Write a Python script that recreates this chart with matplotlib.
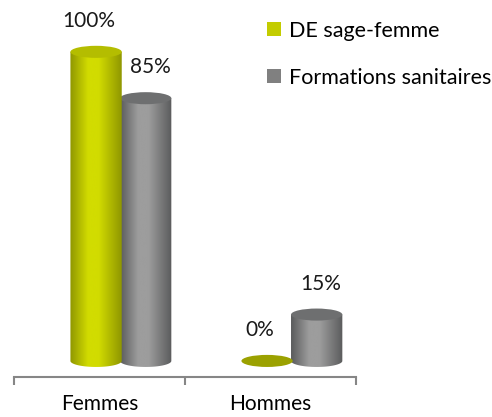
import numpy as np
import matplotlib
matplotlib.use("Agg")
import matplotlib.pyplot as plt
from matplotlib.patches import Ellipse, Patch, PathPatch
from matplotlib.path import Path
from matplotlib.colors import LinearSegmentedColormap

# data
categories = ["Femmes", "Hommes"]
series_names = ["DE sage-femme", "Formations sanitaires"]
de_sage_femme = [100, 0]
formations_sanitaires = [85, 15]
value_labels = [["100%", "0%"], ["85%", "15%"]]

plt.rcParams['font.family'] = ['Lato', 'DejaVu Sans']

# styles: body dark edge, highlight, top colour, legend colour
styles = [
    dict(dark="#8f9600", light="#d2dc00", top="#b4bd00", zero="#9ba100", legend="#c3cc00"),
    dict(dark="#5a5b5c", light="#9d9d9d", top="#6e6f70", zero="#6e6f70", legend="#808080"),
]
offsets = [-0.02, 0.27]
label_dx = [-0.04, 0.025]
width = 0.30
ell_h = 3.9

fig = plt.figure(figsize=(4.92, 4.17), dpi=100)
ax = fig.add_axes([14 / 492, 40 / 417, 342 / 492, 357 / 417])


def cylinder(ax, xc, v, st, z):
    x0, x1 = xc - width / 2, xc + width / 2
    if v <= 0:
        ax.add_patch(Ellipse((xc, v), width, ell_h, facecolor=st["zero"],
                             edgecolor="none", zorder=z))
        return
    # body outline: rectangle + lower half ellipse
    t = np.linspace(np.pi, 2 * np.pi, 60)
    bx = xc + width / 2 * np.cos(t)
    by = ell_h / 2 * np.sin(t)
    verts = list(zip(bx, by)) + [(x1, v), (x0, v), (x0, 0)]
    codes = [Path.MOVETO] + [Path.LINETO] * (len(verts) - 2) + [Path.CLOSEPOLY]
    clip = PathPatch(Path(verts, codes), facecolor="none", edgecolor="none")
    ax.add_patch(clip)
    cmap = LinearSegmentedColormap.from_list(
        "c", [(0, st["dark"]), (0.35, st["light"]), (0.55, st["light"]), (1, st["dark"])])
    grad = np.linspace(0, 1, 256).reshape(1, -1)
    im = ax.imshow(grad, cmap=cmap, extent=[x0, x1, -ell_h / 2, v], aspect="auto",
                   zorder=z, interpolation="bicubic")
    im.set_clip_path(clip)
    ax.add_patch(Ellipse((xc, v), width, ell_h, facecolor=st["top"],
                         edgecolor="none", zorder=z + 0.1))


series = [de_sage_femme, formations_sanitaires]
for s, vals in enumerate(series):
    for i, v in enumerate(vals):
        xc = i + offsets[s]
        cylinder(ax, xc, v, styles[s], 3 - s)
        ax.text(xc + label_dx[s], v + 10, value_labels[s][i], ha="center", va="center",
                fontsize=15, color="#1a1a1a")

ax.set_ylim(-5.2, 110.3)
ax.set_xlim(-0.5, 1.5)
for sp in ["top", "right", "left"]:
    ax.spines[sp].set_visible(False)
ax.spines["bottom"].set_color("#868686")
ax.spines["bottom"].set_linewidth(1.5)
ax.set_yticks([])
ax.set_xticks([0, 1])
ax.set_xticklabels(categories, fontsize=15)
ax.tick_params(axis="x", which="major", length=0, pad=12)
ax.set_xticks([-0.5, 0.5, 1.5], minor=True)
ax.tick_params(axis="x", which="minor", length=6, width=1.5, color="#868686")

handles = [Patch(facecolor=st["legend"], edgecolor="none") for st in styles]
fig.legend(handles, series_names, loc="upper left", bbox_to_anchor=(258 / 492, 1 - 12 / 417),
           frameon=False, fontsize=15.5, handlelength=0.65, handleheight=0.65,
           handletextpad=0.4, labelspacing=1.25, borderaxespad=0)

fig.savefig("out.png", dpi=100)
